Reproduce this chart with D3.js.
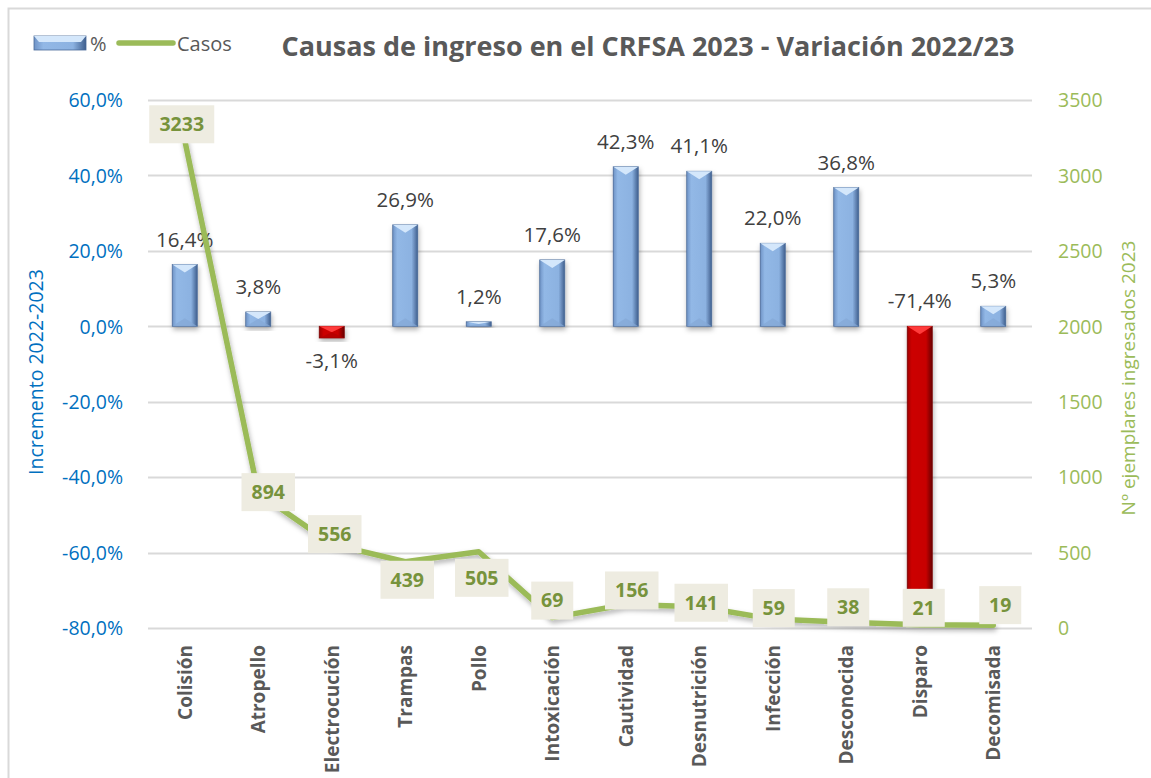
<!DOCTYPE html>
<html>
<head>
<meta charset="utf-8">
<script src="https://cdn.jsdelivr.net/npm/d3@7"></script>
<style>
  body { margin: 0; background: #fff; }
  svg { font-family: 'Open Sans', 'Noto Sans', sans-serif; }
</style>
</head>
<body>
<div id="chart"></div>
<script>
// datos
const categorias = ['Colisión', 'Atropello', 'Electrocución', 'Trampas', 'Pollo', 'Intoxicación',
  'Cautividad', 'Desnutrición', 'Infección', 'Desconocida', 'Disparo', 'Decomisada']
const variacion = [16.4, 3.8, -3.1, 26.9, 1.2, 17.6, 42.3, 41.1, 22.0, 36.8, -71.4, 5.3]
const casos = [3233, 894, 556, 439, 505, 69, 156, 141, 59, 38, 21, 19]
const ticksPct = [60, 40, 20, 0, -20, -40, -60, -80]
const ticksCasos = [0, 500, 1000, 1500, 2000, 2500, 3000, 3500]
// desplazamiento manual de las etiquetas de la linea (como en Excel)
const etiquetaDx = [-3, 10, 3, 2, 3, 0, 6, 2, 1, 2, 4, 7]
const etiquetaDy = [-16, -1, -10, 18, 26, -17, -14, -4, -11, -15, -17, -20]

const width = 1151
const height = 778
const mLeft = 148
const mRight = 1030
const mTop = 100
const mBottom = 628

const svg = d3.select('#chart').append('svg')
  .attr('width', width)
  .attr('height', height)

const defs = svg.append('defs')
const gBlue = defs.append('linearGradient').attr('id', 'gBlue')
gBlue.append('stop').attr('offset', '0%').attr('stop-color', '#6f93c6')
gBlue.append('stop').attr('offset', '18%').attr('stop-color', '#92b8e6')
gBlue.append('stop').attr('offset', '75%').attr('stop-color', '#8cb2e1')
gBlue.append('stop').attr('offset', '100%').attr('stop-color', '#3f5f8e')
const gRed = defs.append('linearGradient').attr('id', 'gRed')
gRed.append('stop').attr('offset', '0%').attr('stop-color', '#a00000')
gRed.append('stop').attr('offset', '18%').attr('stop-color', '#cc0000')
gRed.append('stop').attr('offset', '75%').attr('stop-color', '#c80000')
gRed.append('stop').attr('offset', '100%').attr('stop-color', '#6a0000')
const sombra = defs.append('filter').attr('id', 'sombra')
  .attr('x', '-30%').attr('y', '-30%').attr('width', '160%').attr('height', '160%')
sombra.append('feDropShadow').attr('dx', 1).attr('dy', 3).attr('stdDeviation', 2.5)
  .attr('flood-color', '#000').attr('flood-opacity', 0.3)

// marco
svg.append('path')
  .attr('d', 'M8.5,' + height + 'V8.5H' + width)
  .attr('fill', 'none').attr('stroke', '#d9d9d9').attr('stroke-width', 2)

// escalas
const x = d3.scaleBand().domain(categorias).range([mLeft, mRight])
const y = d3.scaleLinear().domain([-80, 60]).range([mBottom, mTop])
const y2 = d3.scaleLinear().domain([0, 3500]).range([mBottom, mTop])
const fmtPct = d => d3.format('.1f')(d).replace('.', ',').replace('−', '-') + '%'

// rejilla
svg.append('g').selectAll('line').data(ticksPct).enter().append('line')
  .attr('x1', mLeft).attr('x2', mRight + 2)
  .attr('y1', d => Math.round(y(d)) + 0.5).attr('y2', d => Math.round(y(d)) + 0.5)
  .attr('stroke', '#d9d9d9').attr('stroke-width', 2)

// eje izquierdo
const axL = svg.append('g').attr('transform', 'translate(' + (mLeft - 22) + ',0)')
  .call(d3.axisLeft(y).tickValues(ticksPct).tickFormat(fmtPct).tickSize(0))
axL.select('.domain').remove()
axL.selectAll('text').attr('fill', '#0070c0').attr('font-size', 19.5).attr('dy', '0.35em')
  .style('font-family', "'Open Sans', sans-serif")

// eje derecho
const axR = svg.append('g').attr('transform', 'translate(' + (mRight + 25) + ',0)')
  .call(d3.axisRight(y2).tickValues(ticksCasos).tickFormat(d3.format('d')).tickSize(0))
axR.select('.domain').remove()
axR.selectAll('text').attr('fill', '#9bbb59').attr('font-size', 19.5).attr('dy', '0.35em')
  .style('font-family', "'Open Sans', sans-serif")

// titulos de ejes
svg.append('text')
  .attr('transform', 'translate(43,' + 372 + ') rotate(-90)')
  .attr('text-anchor', 'middle').attr('fill', '#0070c0').attr('font-size', 19.5)
  .text('Incremento 2022-2023')
svg.append('text')
  .attr('transform', 'translate(1135,' + 378 + ') rotate(-90)')
  .attr('text-anchor', 'middle').attr('fill', '#9bbb59').attr('font-size', 19)
  .text('Nº ejemplares ingresados 2023')

// barras
const bw = 25
const bars = svg.append('g').selectAll('g').data(variacion).enter().append('g')
  .attr('filter', 'url(#sombra)')
bars.append('rect')
  .attr('x', (d, i) => x(categorias[i]) + x.bandwidth() / 2 - bw / 2)
  .attr('y', d => y(Math.max(d, 0)))
  .attr('width', bw)
  .attr('height', d => Math.abs(y(d) - y(0)))
  .attr('fill', d => d < 0 ? 'url(#gRed)' : 'url(#gBlue)')
  .attr('stroke', d => d < 0 ? '#7a0000' : '#4a6a98').attr('stroke-width', 0.8)
// bisel superior
bars.append('path')
  .attr('d', (d, i) => {
    const x0 = x(categorias[i]) + x.bandwidth() / 2 - bw / 2
    const yt = y(Math.max(d, 0))
    const h = Math.abs(y(d) - y(0))
    const t = Math.min(h / 2, 8)
    return 'M' + x0 + ',' + yt + 'L' + (x0 + bw) + ',' + yt + 'L' + (x0 + bw / 2) + ',' + (yt + t) + 'Z'
  })
  .attr('fill', d => d < 0 ? '#ff3a3a' : '#d4e7fb')
bars.append('path')
  .attr('d', (d, i) => {
    const x0 = x(categorias[i]) + x.bandwidth() / 2 - bw / 2
    const yb = y(Math.min(d, 0))
    const h = Math.abs(y(d) - y(0))
    const t = Math.min(h / 2, 8)
    return 'M' + x0 + ',' + yb + 'L' + (x0 + bw) + ',' + yb + 'L' + (x0 + bw / 2) + ',' + (yb - t) + 'Z'
  })
  .attr('fill', d => d < 0 ? '#b00000' : '#84a8d6').attr('opacity', 0.7)

// etiquetas de porcentaje
svg.append('g').selectAll('text').data(variacion).enter().append('text')
  .attr('x', (d, i) => x(categorias[i]) + x.bandwidth() / 2)
  .attr('y', d => (d < 0 && d > -10) ? y(d) + 23 : y(Math.max(d, 0)) - 25)
  .attr('dy', '0.35em')
  .attr('text-anchor', 'middle').attr('fill', '#404040').attr('font-size', 20.5)
  .text(d => fmtPct(d))

// linea de casos
const line = d3.line()
  .x((d, i) => x(categorias[i]) + x.bandwidth() / 2)
  .y(d => y2(d))
svg.append('path').datum(casos)
  .attr('d', line)
  .attr('fill', 'none').attr('stroke', '#9bbb59').attr('stroke-width', 5.5)
  .attr('stroke-linejoin', 'round').attr('stroke-linecap', 'round')
  .attr('filter', 'url(#sombra)')

// etiquetas de casos
const lab = svg.append('g').selectAll('g').data(casos).enter().append('g')
  .attr('transform', (d, i) => 'translate(' + (x(categorias[i]) + x.bandwidth() / 2 + etiquetaDx[i]) + ',' + (y2(d) + etiquetaDy[i]) + ')')
lab.append('rect')
  .attr('x', d => -(String(d).length * 11.5 + 19) / 2)
  .attr('y', -19)
  .attr('width', d => String(d).length * 11.5 + 19)
  .attr('height', 38)
  .attr('fill', '#eeece1')
lab.append('text')
  .attr('text-anchor', 'middle').attr('dy', '0.35em')
  .attr('fill', '#77933c').attr('font-size', 19.5).attr('font-weight', 'bold')
  .text(d => d)

// categorias
svg.append('g').selectAll('text').data(categorias).enter().append('text')
  .attr('transform', d => 'translate(' + (x(d) + x.bandwidth() / 2 + 7) + ',645) rotate(-90)')
  .attr('text-anchor', 'end').attr('fill', '#595959').attr('font-size', 19).attr('font-weight', 'bold')
  .text(d => d)

// titulo
svg.append('text')
  .attr('x', 648).attr('y', 56)
  .attr('text-anchor', 'middle').attr('fill', '#595959').attr('font-size', 27).attr('font-weight', 'bold')
  .text('Causas de ingreso en el CRFSA 2023 - Variación 2022/23')

// leyenda
const leg = svg.append('g')
leg.append('rect').attr('x', 34).attr('y', 36).attr('width', 52).attr('height', 14)
  .attr('fill', 'url(#gBlue)').attr('stroke', '#4a6a98').attr('stroke-width', 0.8)
leg.append('path').attr('d', 'M34,36L86,36L81,42L39,42Z').attr('fill', '#d4e7fb')
leg.append('text').attr('x', 90).attr('y', 51).attr('fill', '#595959').attr('font-size', 20).text('%')
leg.append('line').attr('x1', 119).attr('x2', 173).attr('y1', 43).attr('y2', 43)
  .attr('stroke', '#9bbb59').attr('stroke-width', 5.5).attr('stroke-linecap', 'round')
leg.append('text').attr('x', 177).attr('y', 51).attr('fill', '#595959').attr('font-size', 20).text('Casos')
</script>
</body>
</html>
